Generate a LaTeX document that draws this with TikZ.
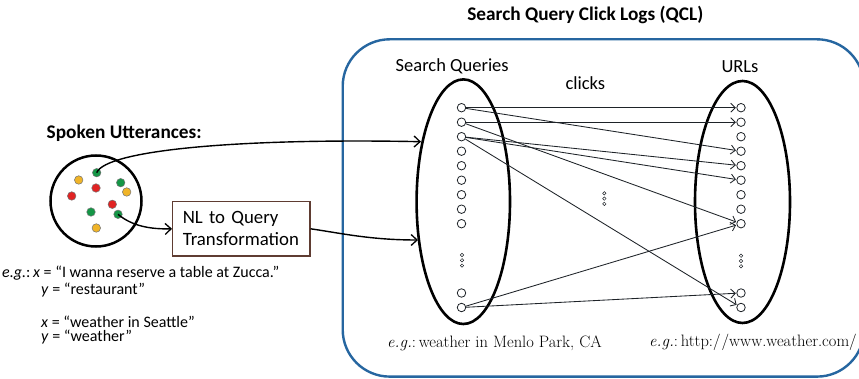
\documentclass[tikz,border=0pt]{standalone}
\usepackage{fontspec}
\setsansfont{Carlito}
\usetikzlibrary{arrows.meta,shapes.geometric}

\definecolor{frameblue}{RGB}{38,102,160}
\definecolor{dotgreen}{RGB}{20,150,70}
\definecolor{dotred}{RGB}{225,35,35}
\definecolor{dotyellow}{RGB}{240,180,40}
\definecolor{boxedge}{RGB}{95,60,50}
\definecolor{inkline}{RGB}{30,35,40}

\tikzset{
  qclframe/.style={draw=frameblue, line width=2.4pt, rounded corners=47pt},
  setoval/.style={ellipse, draw, line width=2.6pt, inner sep=0pt},
  item/.style={circle, draw=inkline, line width=0.8pt, minimum size=8.5pt, inner sep=0pt},
  tinydot/.style={circle, draw=inkline, line width=0.5pt, minimum size=3.4pt, inner sep=0pt},
  click/.style={draw=inkline, line width=0.85pt, -{Straight Barb[length=4.5pt,width=9pt,line width=0.85pt]}, shorten >=0.5pt},
  flow/.style={draw=black, line width=1.4pt, -{Straight Barb[length=6pt,width=11pt,line width=1.3pt]}},
  utt/.style={circle, draw=black!55, line width=0.5pt, minimum size=8.5pt, inner sep=0pt},
  heading/.style={font=\sffamily\bfseries\fontsize{19.3}{22}\selectfont},
  setname/.style={font=\sffamily\fontsize{18.5}{21}\selectfont},
  example/.style={font=\sffamily\fontsize{16}{18}\selectfont, anchor=west, inner sep=0pt},
  serifex/.style={font=\rmfamily\fontsize{16.5}{19}\selectfont, inner sep=0pt},
}

\begin{document}
\begin{tikzpicture}[x=1pt, y=-1pt]
\useasboundingbox (0,0) rectangle (859,379);
\clip (0,0) rectangle (859,379);
\fill[white] (0,0) rectangle (859,379);

% click-log frame and its title
\draw[qclframe] (342.7,39.3) rectangle (864,376.6);
\node[heading] (title) at (585.3,15) {Search Query Click Logs (QCL)};

% query and URL sets
\node[setoval, minimum width=93.4pt, minimum height=244.6pt] (qset) at (463.3,201.7) {};
\node[setoval, minimum width=95pt, minimum height=242pt] (uset) at (742.5,202) {};
\node[setname] (sqlabel) at (452.2,66.7) {Search Queries};
\node[setname] (urllabel) at (740,66.7) {URLs};
\node[setname] (clicks) at (585.3,83.3) {clicks};

% queries (left) and URLs (right)
\foreach \i/\y in {1/107.7,2/122.2,3/136.7,4/151.2,5/165.7,6/180.2,7/194.7,8/209.2,9/223.7,10/293,11/307.5}{
  \node[item] (q\i) at (461.5,\y) {};
  \node[item] (u\i) at (741,\y) {};
}
% vertical ellipses
\foreach \n/\x/\y in {l/462/255, m/604.3/193.3, r/741/255.7}{
  \node[tinydot] (\n a) at (\x,\y) {};
  \node[tinydot] (\n b) at (\x,\y+5.3) {};
  \node[tinydot] (\n c) at (\x,\y+10.6) {};
}

% click edges
\draw[click] (q1) -- (u1);
\draw[click] (q1) -- (u4);
\draw[click] (q2) -- (u2);
\draw[click] (q2) -- (u9);
\draw[click] (q3) -- (u5);
\draw[click] (q3) -- (u6);
\draw[click] (q3) -- (u11);
\draw[click] (q11) -- (u9);
\draw[click] (q11) -- (u10);

% spoken utterances
\node[heading] (spoken) at (124.2,133.3) {Spoken Utterances:};
\node[circle, draw, line width=2.5pt, minimum size=91pt, inner sep=0pt] (pool) at (96,201) {};
\node[utt, fill=dotgreen]  (d1)  at (96.7,172.7) {};
\node[utt, fill=dotyellow] (d2)  at (78.7,180) {};
\node[utt, fill=dotred]    (d3)  at (96,188) {};
\node[utt, fill=dotgreen]  (d4)  at (120.7,182.7) {};
\node[utt, fill=dotyellow] (d5)  at (126.7,192) {};
\node[utt, fill=dotred]    (d6)  at (71.7,196) {};
\node[utt, fill=dotred]    (d7)  at (112.3,204.3) {};
\node[utt, fill=dotgreen]  (d8)  at (91,212) {};
\node[utt, fill=dotgreen]  (d9)  at (118,214.3) {};
\node[utt, fill=dotyellow] (d10) at (96.3,228) {};

% transformation box
\node[draw=boxedge, line width=1.2pt, minimum width=137.3pt, minimum height=54.3pt,
      align=left, text width=117pt, inner sep=0pt,
      font=\sffamily\fontsize{18.8}{22}\selectfont] (nl) at (241.3,228.8)
      {NL to Query\\Transformation};

% flows into the query set
\coordinate (in1) at (421,141.7);
\coordinate (in2) at (418,240);
\draw[flow] (d1.center) .. controls (106,150) and (240,138) .. (in1);
\draw[flow] (d9.center) .. controls (132,226) and (150,229.3) .. (nl.west);
\draw[flow] (nl.east) .. controls (340,233) and (370,240) .. (in2);

% examples
\node[example] (ex1) at (2,273.3) {\textit{e.g.}:\,\textit{x} = “I wanna reserve a table at Zucca.”};
\node[example] (ex2) at (41,290) {\textit{y} = “restaurant”};
\node[example] (ex3) at (41,321.7) {\textit{x} = “weather in Seattle”};
\node[example] (ex4) at (41,337.3) {\textit{y} = “weather”};

\node[serifex] (qex) at (494.5,343) {\textit{e.g.}:\,weather in Menlo Park, CA};
\node[serifex] (uex) at (753,342) {\textit{e.g.}:\,http:/\kern1pt/www.weather.com/};
\end{tikzpicture}
\end{document}
